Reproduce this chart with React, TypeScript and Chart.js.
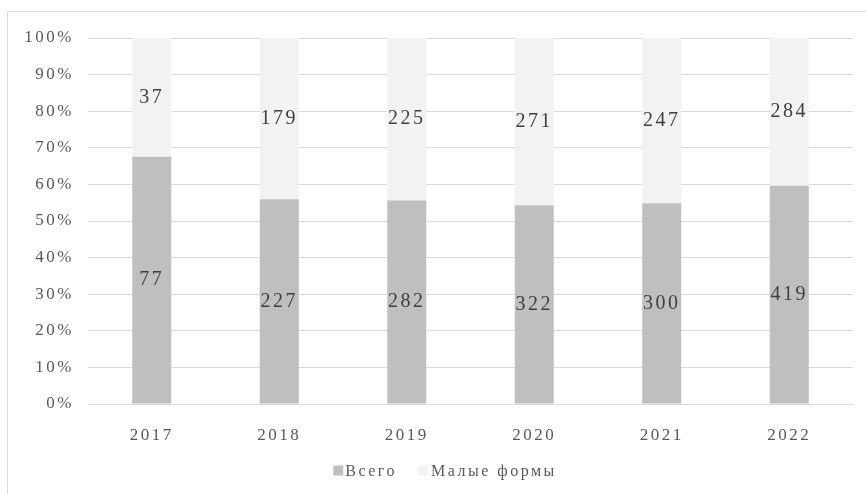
import React, { useEffect, useRef } from "react";
import { Chart, registerables } from "chart.js";

Chart.register(...registerables);

const categories = ["2017", "2018", "2019", "2020", "2021", "2022"];
const vsegoValues = [77, 227, 282, 322, 300, 419];
const malyeValues = [37, 179, 225, 271, 247, 284];
const seriesNames = ["Всего", "Малые формы"];
const seriesColors = ["#bfbfbf", "#f2f2f2"];

const FONT = "'Liberation Serif', 'Times New Roman', serif";
const SPACING = "2.5px";

export default function App() {
  const ref = useRef<HTMLCanvasElement | null>(null);

  useEffect(() => {
    const canvas = ref.current;
    if (!canvas) return;
    const totals = categories.map((_, i) => vsegoValues[i] + malyeValues[i]);
    const pctV = vsegoValues.map((v, i) => (v / totals[i]) * 100);
    const pctM = malyeValues.map((v, i) => (v / totals[i]) * 100);
    const rawData = [vsegoValues, malyeValues];

    const setSpacing = (chart: any) => {
      try { (chart.ctx as any).letterSpacing = SPACING; } catch (e) {}
    };

    const framePlugin = {
      id: "frame",
      beforeInit: setSpacing,
      beforeUpdate: setSpacing,
      beforeLayout: setSpacing,
      beforeDraw(chart: any) {
        setSpacing(chart);
        const ctx = chart.ctx;
        ctx.save();
        ctx.strokeStyle = "#d9d9d9";
        ctx.lineWidth = 1;
        ctx.beginPath();
        ctx.moveTo(7.5, 494);
        ctx.lineTo(7.5, 11.5);
        ctx.lineTo(866, 11.5);
        ctx.stroke();
        ctx.restore();
      },
    };

    const labelPlugin = {
      id: "valueLabels",
      afterDatasetsDraw(chart: any) {
        const ctx = chart.ctx;
        ctx.save();
        ctx.font = `20px ${FONT}`;
        ctx.fillStyle = "#404040";
        ctx.textAlign = "center";
        ctx.textBaseline = "middle";
        chart.data.datasets.forEach((ds: any, di: number) => {
          const meta = chart.getDatasetMeta(di);
          meta.data.forEach((el: any, i: number) => {
            const y = (el.y + el.base) / 2;
            ctx.fillText(String(rawData[di][i]), el.x, y);
          });
        });
        ctx.restore();
      },
    };

    const legendPlugin = {
      id: "customLegend",
      afterDraw(chart: any) {
        const ctx = chart.ctx;
        ctx.save();
        ctx.font = `16px ${FONT}`;
        try { (ctx as any).letterSpacing = SPACING; } catch (e) {}
        const box = 10;
        const gapText = [2, 3];
        const gapItem = 21;
        const widths = seriesNames.map((n) => ctx.measureText(n).width);
        let total = 0;
        seriesNames.forEach((_, i) => {
          total += box + gapText[i] + widths[i];
          if (i < seriesNames.length - 1) total += gapItem;
        });
        let x = (chart.width - total) / 2 + 12;
        const cy = chart.chartArea.bottom + 67;
        ctx.textBaseline = "middle";
        ctx.textAlign = "left";
        seriesNames.forEach((n, i) => {
          ctx.fillStyle = seriesColors[i];
          ctx.fillRect(x, cy - box / 2 - 0.5, box, box);
          x += box + gapText[i];
          ctx.fillStyle = "#595959";
          ctx.fillText(n, x, cy + 1);
          x += widths[i] + gapItem;
        });
        ctx.restore();
      },
    };

    const chart = new Chart(canvas, {
      type: "bar",
      data: {
        labels: categories,
        datasets: [
          {
            label: seriesNames[0],
            data: pctV,
            backgroundColor: seriesColors[0],
            barPercentage: 0.306,
            categoryPercentage: 1,
          },
          {
            label: seriesNames[1],
            data: pctM,
            backgroundColor: seriesColors[1],
            barPercentage: 0.306,
            categoryPercentage: 1,
          },
        ],
      },
      options: {
        responsive: false,
        animation: false,
        devicePixelRatio: 1,
        layout: { padding: { left: 8, right: 13, top: 38, bottom: 45 } },
        plugins: {
          legend: { display: false },
          tooltip: { enabled: false },
        },
        scales: {
          x: {
            stacked: true,
            grid: { display: false },
            border: { display: true, color: "#d9d9d9" },
            ticks: { color: "#595959", font: { family: FONT, size: 17 }, padding: 13 },
            afterFit(scale: any) { scale.height = 45; },
          },
          y: {
            stacked: true,
            min: 0,
            max: 100,
            grid: { color: "#d9d9d9", drawTicks: false },
            border: { display: false },
            ticks: {
              stepSize: 10,
              color: "#595959",
              font: { family: FONT, size: 17 },
              padding: 14,
              callback: (v: any) => `${v}%`,
            },
            afterFit(scale: any) { scale.width = 80; },
          },
        },
      },
      plugins: [framePlugin, labelPlugin, legendPlugin],
    });
    return () => chart.destroy();
  }, []);

  return (
    <div style={{ position: "absolute", left: 0, top: 0, width: 866, height: 494, background: "#fff" }}>
      <canvas ref={ref} width={866} height={494} style={{ display: "block", width: 866, height: 494 }} />
    </div>
  );
}
